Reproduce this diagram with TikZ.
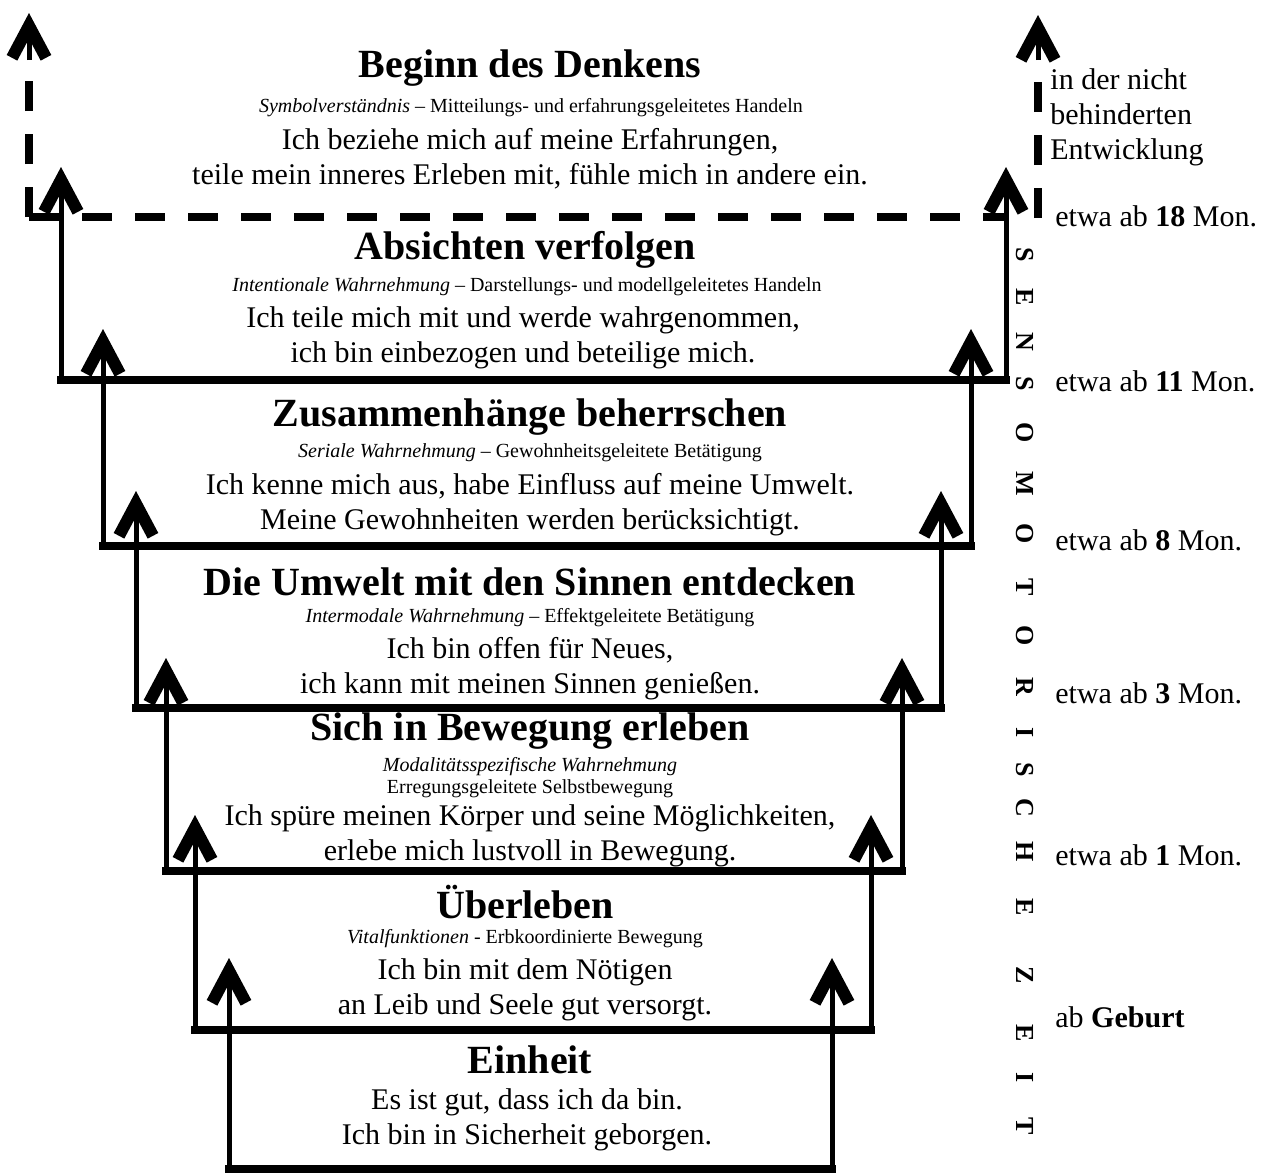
\documentclass[tikz,border=0pt]{standalone}
\usepackage{fontspec}
\setmainfont{Liberation Serif}
\usetikzlibrary{arrows.meta}

\tikzset{
  side/.style={line width=2.5pt, -{Straight Barb[sharp, length=16pt, width=17pt, line width=6pt 0]}},
  base/.style={line width=4pt, line cap=rect},
  dashline/.style={line width=4pt, dash pattern=on 15pt off 11.5pt},
  title/.style={font=\bfseries\fontsize{20}{24}\selectfont},
  sub/.style={font=\fontsize{10}{11}\selectfont, align=center},
  body/.style={font=\fontsize{15}{17.5}\selectfont, align=center},
  note/.style={font=\fontsize{15}{17.5}\selectfont, anchor=west, align=left, inner sep=0pt},
  letter/.style={font=\bfseries\fontsize{13}{13}\selectfont, rotate=-90, inner sep=0pt}
}

\begin{document}
\begin{tikzpicture}[x=0.5pt, y=-0.5pt]
	\useasboundingbox (0,0) rectangle (1263,1174);
	% the stages, from Einheit up to Absichten verfolgen
	\foreach \n/\yb/\xl/\xr/\yt in {0/1169/229/832/958, 1/1030/195/871/815, 2/871/166/902/658, 3/708/136/941/491, 4/546/103/971/329, 5/380/61/1006/167}{
		\coordinate (bl\n) at (\xl,\yb);
		\coordinate (br\n) at (\xr,\yb);
		\coordinate (tl\n) at (\xl,\yt);
		\coordinate (tr\n) at (\xr,\yt);
		\draw[side] (bl\n) -- (tl\n);
		\draw[side] (br\n) -- (tr\n);
		\draw[base] (bl\n) -- (br\n);
	}
	% dashed frame on top
	\coordinate (bl6) at (29,217);
	\coordinate (br6) at (1008,217);
	\coordinate (ul6) at (29,60);
	\coordinate (tl6) at (29,13);
	\coordinate (rb6) at (1038,218);
	\coordinate (ur6) at (1038,60);
	\coordinate (tr6) at (1038,15);
	\draw[dashline] (bl6) -- (br6);
	\draw[dashline] (bl6) -- (ul6);
	\draw[dashline] (rb6) -- (ur6);
	\draw[side] (ul6) -- (tl6);
	\draw[side] (ur6) -- (tr6);

	\node[title] (h6) at (530,68) {Beginn des Denkens};
	\node[sub] (s6) at (531,108) {\textit{Symbolverständnis} -- Mitteilungs- und erfahrungsgeleitetes Handeln};
	\node[body] (b6) at (530,159) {Ich beziehe mich auf meine Erfahrungen,\\ teile mein inneres Erleben mit, fühle mich in andere ein.};

	\node[title] (h5) at (525,250) {Absichten verfolgen};
	\node[sub] (s5) at (527,287) {\textit{Intentionale Wahrnehmung} -- Darstellungs- und modellgeleitetes Handeln};
	\node[body] (b5) at (523,338) {Ich teile mich mit und werde wahrgenommen,\\ ich bin einbezogen und beteilige mich.};

	\node[title] (h4) at (530,417) {Zusammenhänge beherrschen};
	\node[sub] (s4) at (530,453) {\textit{Seriale Wahrnehmung} -- Gewohnheitsgeleitete Betätigung};
	\node[body] (b4) at (530,505) {Ich kenne mich aus, habe Einfluss auf meine Umwelt.\\ Meine Gewohnheiten werden berücksichtigt.};

	\node[title] (h3) at (530,582) {Die Umwelt mit den Sinnen entdecken};
	\node[sub] (s3) at (530,618) {\textit{Intermodale Wahrnehmung} -- Effektgeleitete Betätigung};
	\node[body] (b3) at (530,669) {Ich bin offen für Neues,\\ ich kann mit meinen Sinnen genießen.};

	\node[title] (h2) at (530,731) {Sich in Bewegung erleben};
	\node[sub] (s2) at (530,778) {\textit{Modalitätsspezifische Wahrnehmung}\\ Erregungsgeleitete Selbstbewegung};
	\node[body] (b2) at (530,836) {Ich spüre meinen Körper und seine Möglichkeiten,\\ erlebe mich lustvoll in Bewegung.};

	\node[title] (h1) at (525,902) {Überleben};
	\node[sub] (s1) at (525,939) {\textit{Vitalfunktionen} - Erbkoordinierte Bewegung};
	\node[body] (b1) at (525,990) {Ich bin mit dem Nötigen\\ an Leib und Seele gut versorgt.};

	\node[title] (h0) at (530,1060) {Einheit};
	\node[body] (b0) at (527,1120) {Es ist gut, dass ich da bin.\\ Ich bin in Sicherheit geborgen.};

	% ages on the right
	\node[note] (hint) at (1050,117) {in der nicht\\ behinderten\\ Entwicklung};
	\node[note] (a5) at (1055,216) {etwa ab \textbf{18} Mon.};
	\node[note] (a4) at (1055,381) {etwa ab \textbf{11} Mon.};
	\node[note] (a3) at (1055,540) {etwa ab \textbf{8} Mon.};
	\node[note] (a2) at (1055,693) {etwa ab \textbf{3} Mon.};
	\node[note] (a1) at (1055,855) {etwa ab \textbf{1} Mon.};
	\node[note] (a0) at (1055,1017) {ab \textbf{Geburt}};

	\foreach \c/\y in {S/255, E/297, N/342, S/384, O/433, M/484, O/534, T/587, O/636, R/687, I/733, S/770, C/808, H/852, E/907, Z/975, E/1033, I/1078, T/1126}
		\node[letter] (z\y) at (1025,\y) {\c};
\end{tikzpicture}
\end{document}
